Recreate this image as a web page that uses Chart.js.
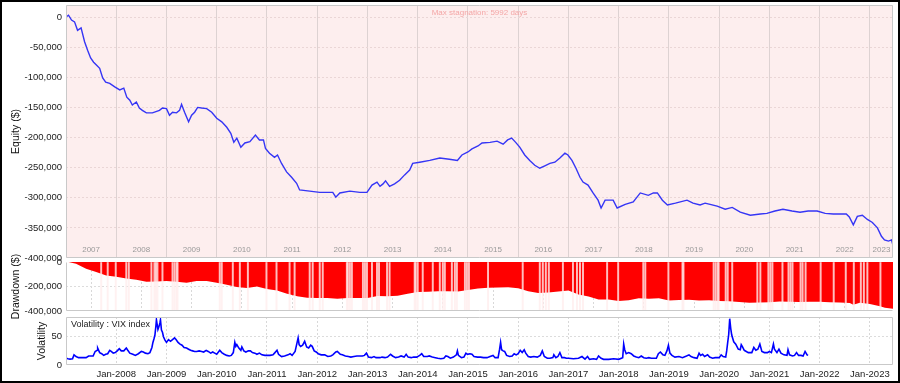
<!DOCTYPE html>
<html><head><meta charset="utf-8">
<script src="https://cdn.jsdelivr.net/npm/chart.js@4.4.0/dist/chart.umd.min.js"></script>
<style>
html,body{margin:0;padding:0;background:#fff;}
#wrap{position:relative;width:900px;height:383px;overflow:hidden;background:#fff;}
#wrap canvas{position:absolute;left:0;top:0;}
#frame{position:absolute;left:0;top:0;width:896px;height:379px;border:2px solid #000;pointer-events:none;}
</style></head><body>
<div id="wrap">
<canvas id="c1" width="900" height="383"></canvas>
<canvas id="c2" width="900" height="383"></canvas>
<canvas id="c3" width="900" height="383"></canvas>
<div id="frame"></div>
</div>
<script>
// ---------------- DATA ----------------
const eqDates = [2007.00,2007.05,2007.11,2007.17,2007.23,2007.30,2007.37,2007.43,2007.49,2007.55,2007.61,2007.67,2007.73,2007.79,2007.87,2007.97,
2008.07,2008.15,2008.21,2008.27,2008.32,2008.40,2008.46,2008.52,2008.60,2008.72,2008.86,2008.92,
2009.00,2009.06,2009.12,2009.20,2009.26,2009.30,2009.36,2009.44,2009.50,2009.56,2009.62,2009.70,2009.80,2009.90,
2010.00,2010.10,2010.20,2010.28,2010.34,2010.40,2010.48,2010.56,2010.66,2010.77,2010.85,2010.93,2010.97,
2011.05,2011.15,2011.21,2011.29,2011.39,2011.49,2011.59,2011.65,2011.85,
2012.05,2012.31,2012.37,2012.45,2012.65,2012.85,2012.99,
2013.09,2013.19,2013.25,2013.31,2013.36,2013.44,2013.54,2013.64,2013.74,2013.84,2013.90,
2014.04,2014.24,2014.44,2014.63,2014.79,2014.88,
2015.00,2015.08,2015.20,2015.28,2015.44,2015.58,2015.70,2015.79,2015.87,2015.95,
2016.03,2016.13,2016.23,2016.33,2016.43,2016.53,2016.63,2016.73,2016.83,2016.93,2016.99,
2017.07,2017.15,2017.23,2017.29,2017.39,2017.49,2017.59,2017.65,2017.73,2017.89,2017.97,
2018.13,2018.29,2018.43,2018.59,2018.69,2018.77,2018.87,2018.97,
2019.13,2019.36,2019.48,2019.62,2019.72,2019.82,2019.96,
2020.12,2020.26,2020.42,2020.62,2020.82,2020.95,
2021.11,2021.27,2021.45,2021.61,2021.77,2021.95,
2022.11,2022.27,2022.41,2022.53,2022.59,2022.67,2022.75,2022.85,2022.95,
2023.05,2023.15,2023.23,2023.29,2023.37,2023.43,2023.46];
const eqValues = [0,3000,-5000,-8000,-22000,-18000,-41000,-55000,-68000,-75000,-80000,-85000,-101000,-108000,-110000,-116000,
-121000,-118000,-133000,-138000,-146000,-141000,-151000,-155000,-159000,-159000,-155000,-151000,
-152000,-163000,-158000,-159000,-155000,-145000,-158000,-174000,-163000,-158000,-150000,-151000,-152000,-158000,
-168000,-174000,-183000,-193000,-208000,-201000,-216000,-209000,-207000,-196000,-204000,-204000,-218000,
-226000,-233000,-229000,-243000,-257000,-266000,-276000,-287000,-289000,
-291000,-291000,-299000,-292000,-289000,-291000,-291000,
-279000,-274000,-281000,-277000,-272000,-281000,-277000,-271000,-262000,-254000,-243000,
-241000,-238000,-234000,-236000,-238000,-229000,
-224000,-219000,-214000,-209000,-208000,-206000,-211000,-204000,-201000,-208000,
-216000,-229000,-238000,-246000,-251000,-247000,-243000,-241000,-234000,-226000,-229000,
-238000,-251000,-266000,-274000,-279000,-292000,-304000,-317000,-304000,-304000,-317000,
-311000,-307000,-292000,-296000,-292000,-292000,-304000,-312000,
-309000,-304000,-309000,-312000,-309000,-311000,-314000,
-319000,-316000,-324000,-329000,-327000,-326000,
-322000,-319000,-322000,-324000,-322000,-322000,
-326000,-327000,-327000,-327000,-332000,-345000,-331000,-329000,-336000,
-341000,-350000,-364000,-370000,-372000,-370000,-379000];

const ddDates = [2007.00,2007.05,2007.2,2007.4,2007.6,2007.8,2008.0,2008.2,2008.4,2008.6,2008.8,2009.0,2009.2,2009.4,2009.6,2009.8,
2010.0,2010.2,2010.4,2010.6,2010.8,2011.0,2011.2,2011.4,2011.6,2011.8,2012.0,2012.2,2012.4,2012.6,2012.8,
2013.0,2013.2,2013.4,2013.6,2013.8,2014.0,2014.2,2014.4,2014.6,2014.8,2015.0,2015.2,2015.4,2015.6,2015.8,
2016.0,2016.2,2016.4,2016.6,2016.8,2017.0,2017.2,2017.4,2017.6,2017.8,2018.0,2018.2,2018.4,2018.6,2018.8,
2019.0,2019.2,2019.4,2019.6,2019.8,2020.0,2020.2,2020.4,2020.6,2020.8,2021.0,2021.2,2021.4,2021.6,2021.8,
2022.0,2022.2,2022.4,2022.6,2022.67,2022.8,2023.0,2023.2,2023.3,2023.46];
const ddValues = [0,0,-15000,-55000,-82000,-110000,-120000,-135000,-145000,-162000,-160000,-155000,-162000,-170000,-155000,-155000,
-170000,-186000,-205000,-212000,-200000,-220000,-233000,-260000,-280000,-292000,-294000,-294000,-300000,-293000,-294000,
-294000,-278000,-280000,-276000,-260000,-245000,-242000,-238000,-239000,-240000,-228000,-217000,-211000,-209000,-207000,
-215000,-238000,-253000,-248000,-240000,-232000,-265000,-282000,-307000,-307000,-318000,-312000,-296000,-299000,-295000,
-314000,-310000,-308000,-314000,-313000,-318000,-320000,-326000,-332000,-330000,-328000,-323000,-324000,-327000,-325000,
-325000,-329000,-330000,-335000,-348000,-333000,-342000,-362000,-373000,-382000];

// light stripes visible inside the red drawdown area
const ddStripes = [2007.70,2007.83,2007.99,2008.20,2008.25,2008.70,2008.76,2008.79,2008.82,2008.92,2009.12,2009.16,2009.20,2009.22,
2010.06,2010.10,2010.32,2010.46,2010.62,2010.99,2011.19,2011.45,2011.55,2011.85,2011.91,2012.05,2012.11,2012.59,2012.61,2012.65,2012.69,
2012.91,2012.95,2012.99,2013.09,2013.19,2013.23,2013.39,2013.44,2013.94,2013.96,2014.00,2014.10,2014.30,2014.44,2014.50,2014.54,
2014.68,2014.74,2014.78,2014.94,2014.98,2015.02,2015.40,2016.09,2016.43,2016.49,2016.55,2016.61,2016.89,2017.09,2017.17,2017.23,2017.29,
2017.77,2017.99,2018.49,2018.53,2018.99,2019.27,2019.29,2019.89,2019.93,2019.97,2019.99,2020.13,2020.17,2020.26,2020.76,2020.82,
2020.98,2021.02,2021.06,2021.26,2021.38,2021.42,2021.46,2021.62,2021.66,2021.72,2022.02,2022.28,2022.52,2022.68,2022.82,2022.88,2022.95,2023.21];

const vixDates = [2007.00,2007.04,2007.08,2007.13,2007.16,2007.20,2007.25,2007.30,2007.35,2007.40,2007.45,2007.50,2007.54,2007.58,2007.62,2007.63,2007.67,2007.71,2007.75,2007.79,2007.83,2007.87,2007.90,2007.94,2007.98,
2008.02,2008.06,2008.10,2008.15,2008.20,2008.23,2008.27,2008.33,2008.38,2008.44,2008.50,2008.54,2008.58,2008.63,2008.67,2008.71,2008.73,2008.75,2008.77,2008.79,2008.80,2008.83,2008.85,2008.87,2008.88,2008.90,2008.92,2008.94,2008.97,
2009.00,2009.04,2009.08,2009.12,2009.16,2009.19,2009.23,2009.27,2009.31,2009.35,2009.40,2009.44,2009.48,2009.52,2009.56,2009.60,2009.65,2009.70,2009.74,2009.79,2009.83,2009.88,2009.92,2009.96,
2010.00,2010.06,2010.10,2010.15,2010.20,2010.25,2010.29,2010.33,2010.36,2010.38,2010.40,2010.44,2010.48,2010.50,2010.54,2010.58,2010.63,2010.67,2010.71,2010.76,2010.80,2010.85,2010.90,2010.96,
2011.00,2011.06,2011.12,2011.15,2011.20,2011.23,2011.29,2011.35,2011.42,2011.46,2011.50,2011.56,2011.60,2011.62,2011.64,2011.67,2011.71,2011.75,2011.79,2011.83,2011.87,2011.90,2011.94,2011.98,
2012.02,2012.08,2012.15,2012.21,2012.27,2012.31,2012.37,2012.40,2012.46,2012.50,2012.56,2012.62,2012.67,2012.73,2012.79,2012.85,2012.90,2012.94,2012.98,
2013.02,2013.08,2013.13,2013.17,2013.25,2013.29,2013.35,2013.40,2013.46,2013.50,2013.56,2013.62,2013.67,2013.73,2013.77,2013.81,2013.87,2013.92,2013.98,
2014.04,2014.08,2014.12,2014.19,2014.23,2014.29,2014.35,2014.40,2014.46,2014.52,2014.56,2014.60,2014.65,2014.71,2014.77,2014.79,2014.81,2014.87,2014.92,2014.96,2014.99,
2015.04,2015.08,2015.12,2015.19,2015.25,2015.31,2015.38,2015.44,2015.50,2015.54,2015.60,2015.63,2015.65,2015.67,2015.70,2015.73,2015.77,2015.83,2015.88,2015.92,2015.96,
2016.00,2016.04,2016.08,2016.12,2016.15,2016.20,2016.25,2016.31,2016.38,2016.44,2016.48,2016.52,2016.58,2016.63,2016.69,2016.71,2016.75,2016.79,2016.83,2016.87,2016.92,2016.96,
2017.00,2017.10,2017.20,2017.27,2017.33,2017.38,2017.42,2017.50,2017.56,2017.60,2017.65,2017.70,2017.80,2017.90,
2018.00,2018.08,2018.10,2018.12,2018.15,2018.20,2018.25,2018.30,2018.35,2018.40,2018.45,2018.50,2018.55,2018.60,2018.65,2018.70,2018.75,2018.79,2018.83,2018.88,2018.92,2018.96,2018.99,
2019.02,2019.06,2019.12,2019.20,2019.27,2019.35,2019.40,2019.44,2019.50,2019.56,2019.60,2019.63,2019.67,2019.71,2019.77,2019.81,2019.87,2019.92,2019.96,
2020.00,2020.04,2020.08,2020.13,2020.15,2020.17,2020.19,2020.21,2020.23,2020.25,2020.29,2020.33,2020.38,2020.42,2020.44,2020.46,2020.50,2020.54,2020.58,2020.65,2020.69,2020.73,2020.77,2020.81,2020.85,2020.90,2020.96,
2021.00,2021.04,2021.08,2021.10,2021.15,2021.19,2021.23,2021.29,2021.35,2021.37,2021.40,2021.46,2021.50,2021.54,2021.58,2021.63,2021.67,2021.71,2021.75,2021.77];
const vixValues = [12,11,10.5,11,18,15,13,13,13,13,16,16,16,24,26,30,22,20,17,19,20,26,24,21,22,
25,29,25,25,30,26,21,19,17,20,24,23,21,20,22,31,40,46,53,70,80,63,68,75,80,62,58,50,44,
40,45,42,45,48,45,40,37,35,31,30,28,26,25,24,24,25,24,23,26,24,21,23,21,
19,26,22,19,17,16,17,22,40,33,36,30,26,32,25,23,25,25,22,21,19,21,18,17,
17,17,18,21,26,19,15,16,18,20,17,24,40,48,36,33,35,42,32,30,35,33,25,23,
20,18,18,15,16,18,23,24,19,18,16,15,14,15,16,16,16,17,21,
14,13,15,13,13,14,13,14,19,16,13,14,16,14,19,14,13,14,14,
17,20,15,15,16,14,13,12,11,12,16,15,12,14,18,25,17,13,14,21,19,
20,19,15,14,14,13,13,15,17,13,13,28,40,27,25,24,17,15,16,20,18,
20,26,22,27,21,15,14,15,14,17,25,15,12,12,13,18,13,15,22,13,13,12,
12,11,12,15,10.5,15,10,11,10,16,12,10,10,11,
10,13,37,27,20,22,20,16,14,13,16,13,12,13,12,12,12,20,23,18,17,25,35,
21,17,14,15,13,16,18,15,13,12,21,17,19,15,18,14,12,13,13,
13,18,15,14,25,40,54,82,65,53,41,37,28,27,36,33,26,24,22,22,31,26,28,37,24,22,22,
24,22,37,28,22,28,21,18,17,27,18,16,17,22,17,17,16,24,18,17];

const equityTicks = [-400000,-350000,-300000,-250000,-200000,-150000,-100000,-50000,0];
const ddTicks = [-400000,-200000,0];
const volTicks = [0,50];
const janYears = [2008,2009,2010,2011,2012,2013,2014,2015,2016,2017,2018,2019,2020,2021,2022,2023];
const yearBands = [2007,2008,2009,2010,2011,2012,2013,2014,2015,2016,2017,2018,2019,2020,2021,2022,2023];
const stagnationText = 'Max stagnation: 5992 days';
const volLegendText = 'Volatility : VIX index';

// ---------------- STYLE / LAYOUT ----------------
const X_MIN = 2007.0, X_MAX = 2023.46;
const FONT = '"Liberation Sans", Arial, sans-serif';
const PLOT_LEFT = 66, PLOT_RIGHT = 893;
Chart.defaults.font.family = FONT;
Chart.defaults.animation = false;
Chart.defaults.devicePixelRatio = 1;

const fmt = v => Number(v).toLocaleString('en-US');
const pts = (xs, ys) => xs.map((x, i) => ({x, y: ys[i]}));

const panelPlugin = {
  id: 'panel',
  beforeDraw(chart, args, o) {
    const a = chart.chartArea, ctx = chart.ctx;
    ctx.save();
    ctx.fillStyle = o.bg || '#fff';
    ctx.fillRect(a.left, a.top, a.right - a.left, a.bottom - a.top);
    ctx.restore();
  },
  beforeDatasetsDraw(chart, args, o) {
    const a = chart.chartArea, ctx = chart.ctx;
    if (o.years) {
      const xs = chart.scales.x;
      ctx.save();
      ctx.font = '8px ' + FONT;
      ctx.fillStyle = '#9a9a9a';
      ctx.textAlign = 'center';
      ctx.textBaseline = 'middle';
      yearBands.forEach(y => {
        const l = xs.getPixelForValue(Math.max(y, X_MIN));
        const r = xs.getPixelForValue(Math.min(y + 1, X_MAX));
        ctx.fillText(String(y), (l + r) / 2, a.bottom - 8);
      });
      ctx.restore();
    }
  },
  afterDraw(chart, args, o) {
    const a = chart.chartArea, ctx = chart.ctx;
    ctx.save();
    ctx.strokeStyle = o.frame || '#c8c8c8';
    ctx.lineWidth = 1;
    const L = Math.round(a.left) + 0.5, T = Math.round(a.top) + 0.5, R = Math.round(a.right) - 0.5, B = Math.round(a.bottom) - 0.5;
    ctx.beginPath();
    const sides = o.sides || 'tlrb';
    if (sides.includes('t')) { ctx.moveTo(L, T); ctx.lineTo(R, T); }
    if (sides.includes('r')) { ctx.moveTo(R, T); ctx.lineTo(R, B); }
    if (sides.includes('b')) { ctx.moveTo(L, B); ctx.lineTo(R, B); }
    if (sides.includes('l')) { ctx.moveTo(L, T); ctx.lineTo(L, B); }
    ctx.stroke();
    if (o.topText) {
      ctx.font = '8px ' + FONT;
      ctx.fillStyle = '#f4a6a6';
      ctx.textAlign = 'center';
      ctx.textBaseline = 'middle';
      ctx.fillText(o.topText, (a.left + a.right) / 2, a.top + 8);
    }
    if (o.legendText) {
      ctx.font = '9px ' + FONT;
      ctx.fillStyle = '#222';
      ctx.textAlign = 'left';
      ctx.textBaseline = 'middle';
      ctx.fillText(o.legendText, a.left + 5, a.top + 8);
    }
    ctx.restore();
  }
};

function xAxis(showLabels, dashed, gridColor) {
  return {
    type: 'linear', min: X_MIN, max: X_MAX, offset: false,
    afterBuildTicks: s => { s.ticks = janYears.map(v => ({value: v})); },
    afterFit: s => { s.height = showLabels ? 18 : 0; s.paddingLeft = 0; s.paddingRight = 0; },
    ticks: {display: showLabels, autoSkip: false, maxRotation: 0, padding: 4,
      font: {size: 9.5}, color: '#222', callback: v => 'Jan-' + v},
    grid: {color: gridColor, lineWidth: 1, drawTicks: false},
    border: {display: false, dash: dashed ? [2, 2] : []}
  };
}
function yAxis(title, ticks, min, max, width, tickFmt, gridColorFn) {
  return {
    type: 'linear', min, max,
    afterBuildTicks: s => { s.ticks = ticks.map(v => ({value: v})); },
    afterFit: s => { s.width = width; s.paddingTop = 0; s.paddingBottom = 0; },
    ticks: {padding: 4, font: {size: 9.5}, color: '#222', callback: tickFmt},
    grid: {color: gridColorFn, drawTicks: false},
    border: {display: false, dash: [2, 2]},
    title: {display: true, text: title, color: '#111', font: {size: 10.5}, padding: {top: 0, bottom: 0}}
  };
}
const hideEdge = (edgeVals, col) => c => (c.tick && edgeVals.includes(c.tick.value)) ? 'rgba(0,0,0,0)' : col;

// ---------- Chart 1: Equity ----------
new Chart(document.getElementById('c1'), {
  type: 'line',
  data: {datasets: [{data: pts(eqDates, eqValues), borderColor: '#3535f5', borderWidth: 1.4, pointRadius: 0, tension: 0, fill: false}]},
  options: {
    responsive: false, events: [],
    layout: {padding: {left: 10, right: 900 - PLOT_RIGHT, top: 5, bottom: 383 - 258}},
    plugins: {legend: {display: false}, tooltip: {enabled: false},
      panel: {bg: '#fdeeee', frame: '#c9c9c9', years: true, topText: stagnationText}},
    scales: {
      x: xAxis(false, false, '#ddd2d2'),
      y: yAxis('Equity ($)', equityTicks, -400000, 20000, PLOT_LEFT - 10, fmt, hideEdge([-400000], '#ead6d6'))
    }
  },
  plugins: [panelPlugin]
});

// ---------- Chart 2: Drawdown ----------
new Chart(document.getElementById('c2'), {
  type: 'line',
  data: {datasets: [
    {type: 'bar', order: 0, data: ddStripes.map(x => ({x, y: ddTicks[0]})), backgroundColor: 'rgba(255,238,238,0.8)', barThickness: 1.3, grouped: false},
    {type: 'line', order: 1, data: pts(ddDates, ddValues), borderWidth: 0, borderColor: 'rgba(0,0,0,0)', backgroundColor: '#ff0000', pointRadius: 0, tension: 0, fill: 'origin'}
  ]},
  options: {
    responsive: false, events: [],
    layout: {padding: {left: 10, right: 900 - PLOT_RIGHT, top: 262, bottom: 383 - 311}},
    plugins: {legend: {display: false}, tooltip: {enabled: false}, panel: {bg: '#fff', frame: '#c9c9c9', sides: 'lb'}},
    scales: {
      x: xAxis(false, true, '#d8d8d8'),
      y: yAxis('Drawdown ($)', ddTicks, -400000, 0, PLOT_LEFT - 10, fmt, hideEdge([-400000, 0], '#dcdcdc'))
    }
  },
  plugins: [panelPlugin]
});

// ---------- Chart 3: Volatility ----------
new Chart(document.getElementById('c3'), {
  type: 'line',
  data: {datasets: [{data: pts(vixDates, vixValues), borderColor: '#0000ff', borderWidth: 1.6, pointRadius: 0, tension: 0, fill: false}]},
  options: {
    responsive: false, events: [],
    layout: {padding: {left: 36, right: 900 - PLOT_RIGHT, top: 317, bottom: 0}},
    plugins: {legend: {display: false}, tooltip: {enabled: false}, panel: {bg: '#fff', frame: '#c9c9c9', legendText: volLegendText}},
    scales: {
      x: xAxis(true, true, '#d8d8d8'),
      y: yAxis('Volatility', volTicks, 0, 85, PLOT_LEFT - 36, v => String(v), hideEdge([0], '#dcdcdc'))
    }
  },
  plugins: [panelPlugin]
});
</script>
</body></html>
